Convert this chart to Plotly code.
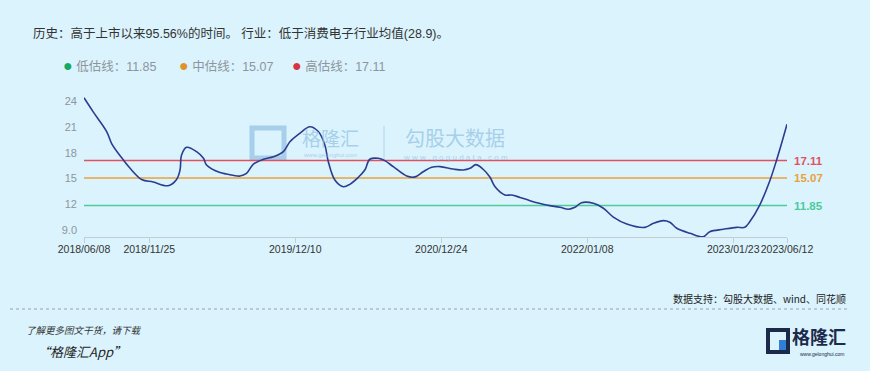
import plotly.graph_objects as go

# ---------------- data ----------------
dates = [
    "2018-06-08", "2018-07-02", "2018-08-06", "2018-08-19", "2018-09-18", "2018-10-06",
    "2018-11-05", "2018-12-05", "2019-01-13", "2019-02-04", "2019-02-13", "2019-02-17",
    "2019-03-02", "2019-03-28", "2019-04-15", "2019-04-23", "2019-05-28", "2019-06-14",
    "2019-07-19", "2019-08-05", "2019-08-23", "2019-09-18", "2019-10-14", "2019-11-09",
    "2019-11-26", "2019-12-22", "2020-01-17", "2020-02-08", "2020-02-25", "2020-03-05",
    "2020-03-22", "2020-04-13", "2020-04-30", "2020-05-22", "2020-06-08", "2020-06-21",
    "2020-07-13", "2020-07-30", "2020-08-21", "2020-09-25", "2020-10-17", "2020-11-07",
    "2020-11-29", "2020-12-21", "2021-01-24", "2021-02-19", "2021-03-09", "2021-03-24",
    "2021-04-12", "2021-04-30", "2021-05-13", "2021-06-08", "2021-06-25", "2021-07-17",
    "2021-08-12", "2021-09-24", "2021-10-29", "2021-11-20", "2021-12-07", "2021-12-24",
    "2022-01-24", "2022-02-19", "2022-03-17", "2022-04-21", "2022-06-07", "2022-06-29",
    "2022-07-25", "2022-08-11", "2022-08-29", "2022-10-03", "2022-11-06", "2022-11-23",
    "2022-12-28", "2023-02-01", "2023-02-22", "2023-03-07", "2023-04-02", "2023-04-29",
    "2023-05-16", "2023-05-29", "2023-06-12",
]
pe_values = [
    24.45, 22.8, 20.5, 19.1, 17.2, 16.2,
    14.9, 14.6, 14.17, 14.9, 16.0, 17.76,
    18.66, 18.15, 17.37, 16.59, 15.7, 15.54,
    15.3, 15.6, 16.7, 17.26, 17.56, 18.15,
    19.3, 20.3, 21.07, 20.5, 18.93, 16.98,
    14.84, 14.05, 14.33, 15.15, 16.0, 17.26,
    17.37, 17.1, 16.4, 15.3, 15.2, 15.8,
    16.32, 16.4, 16.12, 16.0, 16.2, 16.63,
    16.09, 15.15, 14.05, 13.08, 13.08, 12.8,
    12.42, 11.91, 11.64, 11.41, 11.64, 12.18,
    12.11, 11.53, 10.5, 9.69, 9.3, 9.77,
    10.08, 9.9, 9.19, 8.6, 8.2, 8.79,
    9.07, 9.3, 9.3, 9.96, 11.91, 14.84,
    17.18, 19.13, 21.35,
]

level_names = ["低估线", "中估线", "高估线"]
level_values = [11.85, 15.07, 17.11]
level_colors = ["#4ccb9c", "#e9a23b", "#e2515d"]
legend_dot_colors = ["#14a865", "#e0922a", "#d8343f"]

x_tick_vals = ["2018-06-08", "2018-11-25", "2019-12-10", "2020-12-24",
               "2022-01-08", "2023-01-23", "2023-06-12"]
x_tick_text = ["2018/06/08", "2018/11/25", "2019/12/10", "2020/12/24",
               "2022/01/08", "2023/01/23", "2023/06/12"]
y_tick_vals = [9, 12, 15, 18, 21, 24]
y_tick_text = ["9.0", "12", "15", "18", "21", "24"]

title_text = "历史：高于上市以来95.56%的时间。 行业：低于消费电子行业均值(28.9)。"
source_text = "数据支持：勾股大数据、wind、同花顺"

# ---------------- layout geometry ----------------
W, H = 870, 371
L, R, T, B = 84, 787, 90, 237
BG = "#daf3fd"
FONT = "Liberation Sans, Noto Sans CJK SC, sans-serif"
CJK = "Noto Sans CJK SC, sans-serif"


def px(x):
    return (x - L) / (R - L)


def py(y):
    return (B - y) / (B - T)


fig = go.Figure()

# valuation level lines
for name, val, col in zip(level_names, level_values, level_colors):
    fig.add_trace(go.Scatter(
        x=[dates[0], dates[-1]], y=[val, val], mode="lines",
        line=dict(color=col, width=1.4), hoverinfo="skip", showlegend=False))

# PE curve
fig.add_trace(go.Scatter(
    x=dates, y=pe_values, mode="lines",
    line=dict(color="#2b3d8f", width=1.6, shape="spline", smoothing=1.0),
    showlegend=False))

annotations = []
shapes = []

# title
annotations.append(dict(xref="paper", yref="paper", x=px(31), y=py(33),
                        xanchor="left", yanchor="middle", showarrow=False,
                        text=title_text, font=dict(family=FONT, size=12.5, color="#333333")))

# legend
legend_x = [61, 177, 290]
for name, val, dcol, lx in zip(level_names, level_values, legend_dot_colors, legend_x):
    annotations.append(dict(
        xref="paper", yref="paper", x=px(lx), y=py(65), xanchor="left", yanchor="middle",
        showarrow=False,
        text=f"<span style='color:{dcol};font-size:16px'>●</span> {name}：{val:.2f}",
        font=dict(family=FONT, size=12.5, color="#8e959c")))

# right-side level labels
for val, col in zip(level_values, level_colors):
    annotations.append(dict(xref="paper", yref="y", x=px(792), y=val,
                            xanchor="left", yanchor="middle", showarrow=False,
                            text=f"<b>{val:.2f}</b>",
                            font=dict(family=FONT, size=11.5, color=col)))

# watermark
wm = "rgba(150,195,228,0.75)"
shapes.append(dict(type="rect", xref="paper", yref="paper",
                   x0=px(252), x1=px(284), y0=py(158), y1=py(128),
                   line=dict(color=wm, width=5), fillcolor="rgba(0,0,0,0)", layer="below"))
shapes.append(dict(type="line", xref="paper", yref="paper",
                   x0=px(384), x1=px(384), y0=py(160), y1=py(126),
                   line=dict(color="rgba(150,195,228,0.6)", width=1), layer="below"))
annotations.append(dict(xref="paper", yref="paper", x=px(330), y=py(137),
                        xanchor="center", yanchor="middle", showarrow=False,
                        text="格隆汇", font=dict(family=CJK, size=19, color=wm)))
annotations.append(dict(xref="paper", yref="paper", x=px(330), y=py(155),
                        xanchor="center", yanchor="middle", showarrow=False,
                        text="www.gelonghui.com", font=dict(family=FONT, size=6, color=wm)))
annotations.append(dict(xref="paper", yref="paper", x=px(455), y=py(137),
                        xanchor="center", yanchor="middle", showarrow=False,
                        text="勾股大数据", font=dict(family=CJK, size=20, color=wm)))
annotations.append(dict(xref="paper", yref="paper", x=px(455), y=py(157),
                        xanchor="center", yanchor="middle", showarrow=False,
                        text="w w w . g o g u d a t a . c o m",
                        font=dict(family=FONT, size=8, color=wm)))

# footer
annotations.append(dict(xref="paper", yref="paper", x=px(848), y=py(298),
                        xanchor="right", yanchor="middle", showarrow=False,
                        text=source_text, font=dict(family=CJK, size=10, color="#222222")))
shapes.append(dict(type="line", xref="paper", yref="paper",
                   x0=px(10), x1=px(849), y0=py(309), y1=py(309),
                   line=dict(color="#9aa3aa", width=1, dash="dot")))
annotations.append(dict(xref="paper", yref="paper", x=px(24), y=py(330),
                        xanchor="left", yanchor="middle", showarrow=False,
                        text="<i>了解更多图文干货，请下载</i>",
                        font=dict(family=CJK, size=9.5, color="#333333")))
annotations.append(dict(xref="paper", yref="paper", x=px(35), y=py(351),
                        xanchor="left", yanchor="middle", showarrow=False,
                        text="<i>“格隆汇App”</i>",
                        font=dict(family=CJK, size=13, color="#222222")))
# bottom-right logo
navy = "#1c2a4a"
shapes.append(dict(type="rect", xref="paper", yref="paper",
                   x0=px(768), x1=px(788), y0=py(352), y1=py(330),
                   line=dict(color=navy, width=4), fillcolor="rgba(0,0,0,0)"))
shapes.append(dict(type="rect", xref="paper", yref="paper",
                   x0=px(779), x1=px(786), y0=py(350), y1=py(340),
                   line=dict(width=0), fillcolor="#2f7fd8"))
annotations.append(dict(xref="paper", yref="paper", x=px(819), y=py(336),
                        xanchor="center", yanchor="middle", showarrow=False,
                        text="<b>格隆汇</b>", font=dict(family=CJK, size=18, color=navy)))
annotations.append(dict(xref="paper", yref="paper", x=px(822), y=py(354),
                        xanchor="center", yanchor="middle", showarrow=False,
                        text="www.gelonghui.com", font=dict(family=FONT, size=5, color=navy)))

fig.update_layout(
    width=W, height=H,
    margin=dict(l=L, r=W - R, t=T, b=H - B, pad=0),
    paper_bgcolor=BG, plot_bgcolor=BG,
    showlegend=False,
    annotations=annotations, shapes=shapes,
    xaxis=dict(type="date", range=[dates[0], dates[-1]],
               tickvals=x_tick_vals, ticktext=x_tick_text, tickangle=0,
               showgrid=False, zeroline=False,
               showline=True, linecolor="#c5ccd4", linewidth=1,
               ticks="outside", ticklen=5, tickcolor="#c5ccd4",
               ticklabelstandoff=-3,
               tickfont=dict(family=FONT, size=10.5, color="#333333")),
    yaxis=dict(range=[8.17, 25.36], tickvals=y_tick_vals, ticktext=y_tick_text,
               showgrid=False, zeroline=False, showline=False, ticks="",
               ticklabelstandoff=6,
               tickfont=dict(family=FONT, size=11, color="#8e959c")),
)

fig.write_html("out.html")
